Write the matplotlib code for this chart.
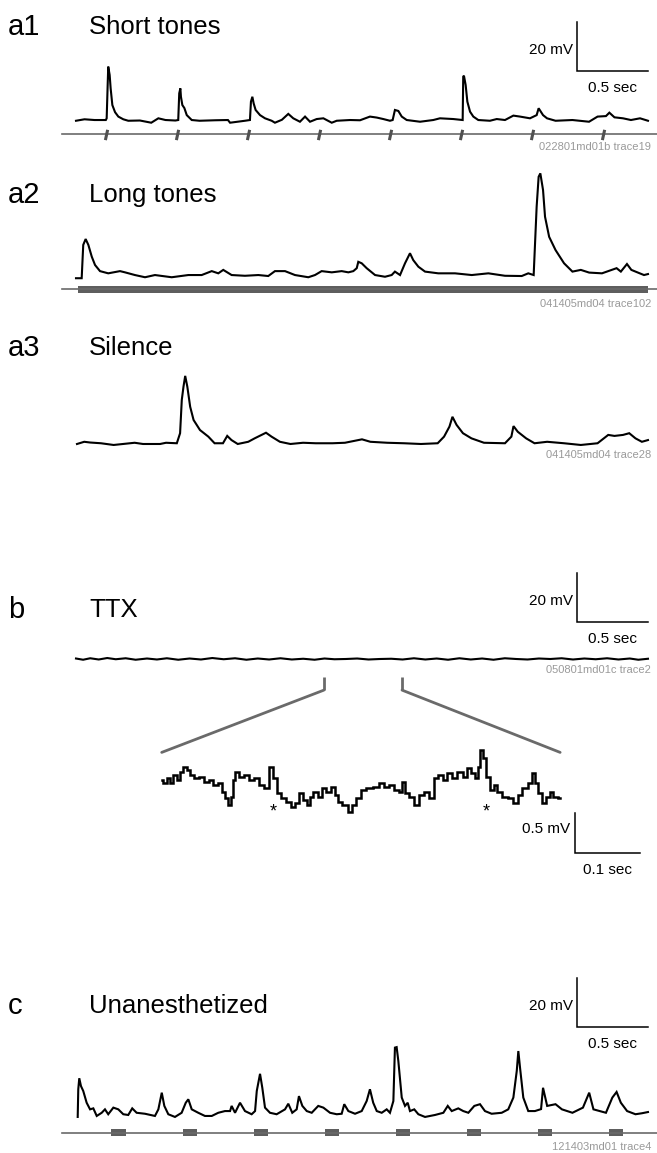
import matplotlib
matplotlib.use("Agg")
import matplotlib.pyplot as plt
from matplotlib.patches import Rectangle, ConnectionPatch

plt.rcParams['font.family'] = ['Liberation Sans', 'DejaVu Sans']

# ---- data: (time s, mV above baseline) ----
a1_trace = [(0.00, 0.1), (0.06, 0.7), (0.13, 0.4), (0.21, 0.4), (0.216, 1.1), (0.223, 14.7), (0.227, 22.2),
            (0.237, 18.8), (0.244, 13.3), (0.256, 6.5), (0.275, 3.6), (0.298, 1.8), (0.333, 0.7), (0.368, 0.1),
            (0.45, 0.2), (0.53, -0.7), (0.58, 1.1), (0.63, 0.4), (0.70, 0.2), (0.72, 0.4), (0.727, 11.3),
            (0.735, 13.3), (0.739, 9.9), (0.749, 6.5), (0.763, 5.3), (0.78, 2.4), (0.815, 0.4), (0.87, 0.1),
            (0.98, 0.3), (1.07, 0.4), (1.085, -0.7), (1.19, 0.1), (1.225, 0.4), (1.232, 7.9), (1.242, 9.9),
            (1.251, 7.2), (1.265, 4.5), (1.296, 2.4), (1.331, 1.1), (1.378, 0.1), (1.401, -0.7), (1.45, 0.5),
            (1.495, 2.9), (1.53, 1.1), (1.577, -0.3), (1.613, 1.8), (1.648, -0.3), (1.695, 0.8), (1.742, 1.1),
            (1.801, -0.7), (1.836, 0.1), (1.93, 0.4), (2.0, 0.3), (2.07, 1.8), (2.118, 1.4), (2.164, 0.8),
            (2.211, 0.1), (2.23, 0.4), (2.246, 4.5), (2.27, 4.1), (2.294, 1.8), (2.329, 0.4), (2.423, -0.3),
            (2.516, 0.4), (2.563, 1.1), (2.657, 0.8), (2.723, 0.4), (2.727, 18.1), (2.732, 18.5), (2.744, 14.7),
            (2.756, 7.9), (2.775, 3.8), (2.798, 1.8), (2.833, 0.4), (2.915, 0.1), (2.963, 0.8), (3.021, 0.4),
            (3.08, 2.2), (3.127, 1.8), (3.197, 1.1), (3.244, 2.4), (3.258, 5.2), (3.289, 2.4), (3.317, 1.1),
            (3.377, 0.1), (3.496, 0.4), (3.613, -0.3), (3.673, 1.8), (3.732, 2.0), (3.756, 3.4), (3.792, 1.5),
            (3.852, 1.1), (3.908, 0.4), (3.972, 1.1), (4.028, 0.1)]

a2_trace = [(0.0, -0.5), (0.04, -0.5), (0.051, 13.1), (0.068, 15.5), (0.087, 13.1), (0.111, 8.3), (0.134, 4.9),
            (0.169, 2.4), (0.227, 1.5), (0.31, 2.4), (0.345, 1.9), (0.415, 0.8), (0.486, -0.1), (0.556, 0.8),
            (0.674, -0.1), (0.791, 0.8), (0.885, 0.8), (0.956, 2.4), (1.002, 1.5), (1.037, 2.9), (1.096, 0.8),
            (1.19, 0.5), (1.284, 0.8), (1.354, 0.4), (1.401, 2.4), (1.472, 2.4), (1.542, 0.8), (1.636, -0.1),
            (1.683, 0.8), (1.73, 2.4), (1.801, 1.9), (1.871, 2.4), (1.918, 1.9), (1.953, 2.4), (1.977, 3.6),
            (1.988, 6.2), (2.012, 5.6), (2.047, 3.6), (2.106, 0.8), (2.176, 0.1), (2.223, 0.8), (2.246, 2.2),
            (2.282, 0.8), (2.317, 5.6), (2.352, 9.7), (2.375, 6.9), (2.411, 4.2), (2.458, 2.2), (2.551, 1.5),
            (2.669, 1.5), (2.787, 0.8), (2.904, 1.5), (3.021, 0.5), (3.139, 0.4), (3.185, 1.5), (3.223, 0.8),
            (3.244, 28.7), (3.258, 40.9), (3.27, 42.3), (3.289, 35.5), (3.303, 24.6), (3.332, 16.4), (3.377, 11.0),
            (3.437, 5.6), (3.496, 2.2), (3.555, 2.9), (3.614, 1.8), (3.704, 1.5), (3.807, 3.6), (3.837, 2.2),
            (3.88, 5.3), (3.911, 2.9), (3.97, 1.5), (4.0, 0.8), (4.028, 1.2)]

a3_trace = [(0.007, -0.2), (0.058, 0.7), (0.10, 0.4), (0.176, 0.1), (0.265, -0.6), (0.413, 0.3), (0.472, -0.2),
            (0.592, -0.2), (0.634, 0.3), (0.71, 0.1), (0.733, 4.2), (0.745, 17.8), (0.757, 23.2), (0.769, 27.6),
            (0.784, 23.2), (0.804, 15.0), (0.828, 9.6), (0.873, 5.5), (0.932, 2.8), (0.976, 0.1), (1.035, 0.1),
            (1.065, 3.1), (1.095, 1.4), (1.139, -0.2), (1.213, 0.7), (1.258, 2.1), (1.338, 4.4), (1.377, 2.8),
            (1.436, 0.7), (1.51, -0.2), (1.599, 0.3), (1.688, 0.1), (1.806, 0.1), (1.894, 0.3), (2.014, 1.7),
            (2.073, 0.7), (2.192, 0.3), (2.31, 0.1), (2.429, -0.2), (2.547, 0.1), (2.592, 2.8), (2.63, 6.9),
            (2.651, 10.9), (2.68, 7.6), (2.725, 4.2), (2.785, 2.1), (2.873, 0.3), (3.021, 0.1), (3.066, 2.8),
            (3.081, 7.1), (3.111, 4.8), (3.17, 2.1), (3.229, 0.1), (3.318, 0.7), (3.437, 0.1), (3.555, -0.6),
            (3.673, 0.1), (3.748, 3.5), (3.792, 3.1), (3.852, 3.5), (3.896, 4.2), (3.94, 2.1), (3.985, 0.7),
            (4.028, 1.4)]

b_trace = [(0.0, 0.2), (0.05, -0.3), (0.1, 0.3), (0.16, -0.2), (0.22, 0.4), (0.28, -0.1), (0.35, 0.3),
           (0.42, -0.3), (0.5, 0.2), (0.57, -0.2), (0.64, 0.3), (0.72, -0.3), (0.8, 0.2), (0.88, -0.2),
           (0.96, 0.4), (1.04, -0.1), (1.12, 0.3), (1.2, -0.3), (1.28, 0.2), (1.36, -0.2), (1.44, 0.3),
           (1.52, -0.2), (1.6, 0.1), (1.68, -0.3), (1.75, 0.2), (1.82, -0.1), (1.9, 0.0), (1.98, 0.2),
           (2.06, -0.2), (2.14, 0.0), (2.22, 0.1), (2.3, -0.2), (2.38, 0.3), (2.46, -0.2), (2.54, 0.2),
           (2.62, -0.3), (2.7, 0.3), (2.78, -0.2), (2.86, 0.2), (2.94, -0.3), (3.02, 0.3), (3.1, 0.0),
           (3.18, -0.2), (3.26, 0.2), (3.34, 0.0), (3.42, 0.3), (3.5, -0.2), (3.58, 0.2), (3.66, -0.1),
           (3.74, 0.3), (3.82, -0.2), (3.9, 0.2), (3.96, -0.3), (4.028, 0.1)]

# expanded TTX segment (s from segment start, mV)
b_zoom_trace = [(0.0, 0.125), (0.005, 0.084), (0.010, 0.146), (0.015, 0.084), (0.020, 0.19), (0.026, 0.125),
                (0.031, 0.23), (0.036, 0.29), (0.041, 0.25), (0.046, 0.19), (0.054, 0.146), (0.062, 0.166),
                (0.069, 0.104), (0.077, 0.125), (0.082, 0.063), (0.090, 0.084), (0.095, -0.021), (0.100, -0.104),
                (0.104, -0.19), (0.108, -0.084), (0.112, 0.125), (0.115, 0.23), (0.123, 0.166), (0.131, 0.19),
                (0.138, 0.125), (0.146, 0.146), (0.154, 0.063), (0.162, 0.021), (0.168, 0.29), (0.174, 0.146),
                (0.180, -0.041), (0.187, -0.104), (0.195, -0.146), (0.202, -0.21), (0.208, -0.166), (0.215, -0.041),
                (0.220, -0.125), (0.226, -0.19), (0.231, -0.084), (0.236, -0.021), (0.244, -0.084), (0.249, 0.021),
                (0.256, -0.021), (0.264, 0.041), (0.269, -0.063), (0.274, -0.146), (0.282, -0.19), (0.290, -0.27),
                (0.295, -0.19), (0.302, -0.104), (0.310, 0.0), (0.320, 0.021), (0.331, 0.041), (0.338, 0.084),
                (0.346, 0.041), (0.354, 0.063), (0.362, 0.0), (0.367, -0.021), (0.372, 0.104), (0.377, -0.041),
                (0.385, -0.084), (0.392, -0.19), (0.400, -0.063), (0.408, -0.021), (0.415, -0.104), (0.423, 0.146),
                (0.428, 0.19), (0.436, 0.125), (0.441, 0.21), (0.451, 0.146), (0.459, 0.23), (0.467, 0.166),
                (0.472, 0.27), (0.479, 0.21), (0.485, 0.146), (0.487, 0.29), (0.492, 0.5), (0.497, 0.4),
                (0.502, 0.166), (0.508, 0.0), (0.513, 0.063), (0.520, -0.021), (0.528, -0.084), (0.536, -0.104),
                (0.544, -0.166), (0.551, -0.063), (0.559, 0.021), (0.567, 0.084), (0.571, 0.21), (0.577, 0.084),
                (0.582, -0.041), (0.587, -0.166), (0.595, -0.084), (0.600, -0.021), (0.605, -0.084), (0.613, -0.104)]
b_zoom_window = (1.746, 2.296)
b_asterisks = [0.171, 0.50]

c_trace = [(0.012, -1.2), (0.016, 10.1), (0.023, 14.6), (0.035, 11.4), (0.051, 9.4), (0.075, 4.6), (0.099, 1.9),
           (0.122, 2.3), (0.146, -0.8), (0.181, 0.5), (0.204, 1.9), (0.227, -0.1), (0.263, 2.6), (0.298, 1.9),
           (0.333, -0.1), (0.368, -0.4), (0.396, 2.3), (0.427, 0.5), (0.486, 0.1), (0.556, -0.8), (0.58, 1.9),
           (0.604, 8.7), (0.622, 3.3), (0.65, -0.1), (0.697, -1.2), (0.744, 0.5), (0.773, 4.6), (0.791, 6.0),
           (0.815, 1.9), (0.861, 0.5), (0.908, -0.8), (0.956, -0.8), (1.002, 0.5), (1.049, 1.2), (1.085, 1.2),
           (1.096, 3.3), (1.12, 0.5), (1.155, 4.6), (1.19, 1.2), (1.237, -0.1), (1.261, 1.2), (1.273, 9.4),
           (1.296, 16.4), (1.312, 10.7), (1.331, 2.6), (1.366, 0.5), (1.413, -0.1), (1.472, 1.9), (1.495, 4.2),
           (1.523, 0.5), (1.554, 1.9), (1.57, 7.3), (1.594, 3.3), (1.625, 1.2), (1.66, 0.5), (1.706, 3.3),
           (1.742, 2.6), (1.789, 0.5), (1.836, -0.1), (1.871, 0.1), (1.889, 4.0), (1.918, 1.2), (1.965, 0.1),
           (2.012, 1.2), (2.047, 5.3), (2.07, 10.1), (2.093, 4.6), (2.118, 1.2), (2.153, 0.5), (2.188, 1.9),
           (2.211, 0.5), (2.235, 5.3), (2.246, 27.1), (2.258, 27.3), (2.27, 21.6), (2.294, 6.7), (2.317, 3.3),
           (2.336, 4.6), (2.352, 1.2), (2.382, 1.9), (2.411, -0.1), (2.458, -1.2), (2.528, -0.4), (2.587, 0.5),
           (2.618, 3.3), (2.646, 1.2), (2.692, 2.3), (2.727, 1.2), (2.763, 0.5), (2.805, 3.3), (2.845, 4.0),
           (2.88, 1.2), (2.927, 0.1), (2.998, 0.5), (3.044, 1.9), (3.08, 6.7), (3.104, 17.6), (3.115, 25.7),
           (3.127, 18.9), (3.15, 6.7), (3.185, 1.2), (3.232, 1.2), (3.275, 2.0), (3.289, 10.7), (3.318, 3.3),
           (3.377, 4.0), (3.422, 1.9), (3.496, 0.5), (3.57, 2.6), (3.614, 8.7), (3.644, 1.9), (3.732, 0.5),
           (3.777, 6.7), (3.807, 9.0), (3.837, 4.6), (3.881, 1.2), (3.94, -0.1), (3.985, 0.3), (4.028, 0.8)]

short_tone_onsets = [0.215, 0.715, 1.215, 1.715, 2.215, 2.715, 3.215, 3.715]
long_tone = (0.016, 4.03)
c_tone_onsets = [0.25, 0.75, 1.25, 1.75, 2.25, 2.75, 3.25, 3.75]
c_tone_dur = 0.1

titles = [("a1", "Short tones"), ("a2", "Long tones"), ("a3", "Silence"), ("b", "TTX"), ("c", "Unanesthetized")]
trace_ids = ["022801md01b trace19", "041405md04 trace102", "041405md04 trace28",
             "050801md01c trace2", "121403md01 trace4"]

# ---- layout (pixels) ----
W, H = 657, 1153
fig = plt.figure(figsize=(W / 100, H / 100), dpi=100)

def make_axes(box, x0, y0, sx, sy):
    left, top, right, bottom = box
    ax = fig.add_axes([left / W, 1 - bottom / H, (right - left) / W, (bottom - top) / H])
    ax.set_xlim((left - x0) / sx, (right - x0) / sx)
    ax.set_ylim((y0 - bottom) / sy, (y0 - top) / sy)
    ax.axis('off')
    return ax

def ftext(x, y, s, **kw):
    fig.text(x / W, 1 - y / H, s, **kw)

SX, SY = 142, 2.45
ax_a1 = make_axes((0, 0, W, 160), 76, 121, SX, SY)
ax_a2 = make_axes((0, 160, W, 310), 76, 277, SX, SY)
ax_a3 = make_axes((0, 310, W, 470), 76, 443.5, SX, SY)
ax_b = make_axes((0, 560, W, 700), 76, 659, SX, SY)
ax_bz = make_axes((140, 740, W, 890), 161.7, 790, 650, 80)
ax_c = make_axes((0, 940, W, H), 76, 1114, SX, SY)

def draw_trace(ax, pts, lw=1.5, **kw):
    t = [p[0] for p in pts]
    v = [p[1] for p in pts]
    ax.plot(t, v, color='black', lw=lw, solid_joinstyle='miter', **kw)

draw_trace(ax_a1, a1_trace)
draw_trace(ax_a2, a2_trace)
draw_trace(ax_a3, a3_trace)
draw_trace(ax_b, b_trace)
draw_trace(ax_bz, b_zoom_trace, lw=1.8, drawstyle='steps-mid')
draw_trace(ax_c, c_trace)

gray = '#6a6a6a'
# stimulus markers
ax_a1.plot([-0.1, 4.1], [-5.5, -5.5], color=gray, lw=1.2)
for t in short_tone_onsets:
    ax_a1.plot([t - 0.008, t + 0.008], [-7.8, -3.6], color='#505050', lw=2.2, solid_capstyle='butt')
ax_a2.plot([-0.1, 4.1], [-5.1, -5.1], color=gray, lw=1.2)
ax_a2.add_patch(Rectangle((long_tone[0], -6.6), long_tone[1] - long_tone[0], 3.0, color='#5e5e5e', lw=0))
ax_c.plot([-0.1, 4.1], [-7.6, -7.6], color=gray, lw=1.2)
for t in c_tone_onsets:
    ax_c.add_patch(Rectangle((t, -9.1), c_tone_dur, 3.0, color='#5e5e5e', lw=0))

# scale bars (20 mV / 0.5 s)
def scale_bar(ax, t0, v0):
    ax.plot([t0, t0, t0 + 0.5], [v0 + 20, v0, v0], color='black', lw=1.1, solid_joinstyle='miter')
    ax.text(t0 - 0.03, v0 + 8.5, "20 mV", ha='right', va='center', fontsize=11)
    ax.text(t0 + 0.25, v0 - 6.8, "0.5 sec", ha='center', va='center', fontsize=11)

scale_bar(ax_a1, 3.528, 20.4)
scale_bar(ax_b, 3.528, 15.1)
scale_bar(ax_c, 3.528, 35.5)

# inset scale bar (0.5 mV / 0.1 s)
ax_bz.plot([0.636, 0.636, 0.736], [-0.29, -0.79, -0.79], color='black', lw=1.1, solid_joinstyle='miter')
ax_bz.text(0.628, -0.49, "0.5 mV", ha='right', va='center', fontsize=11)
ax_bz.text(0.686, -1.0, "0.1 sec", ha='center', va='center', fontsize=11)
for t in b_asterisks:
    ax_bz.text(t, -0.27, "*", ha='center', va='center', fontsize=13)

# expansion lines from TTX trace to inset
for tb, tz in zip(b_zoom_window, (0.0, 0.613)):
    ax_b.plot([tb, tb], [-7.2, -12.7], color=gray, lw=2.0, solid_capstyle='butt')
    con = ConnectionPatch(xyA=(tb, -12.7), coordsA=ax_b.transData,
                          xyB=(tz, 0.47), coordsB=ax_bz.transData,
                          color=gray, lw=2.0)
    fig.add_artist(con)

# titles and labels
title_y = [27, 195, 348, 610, 1006]
for (lab, name), y in zip(titles, title_y):
    ftext(8, y, lab, fontsize=21, ha='left', va='center')
    ftext(89, y, name, fontsize=18.5, ha='left', va='center')

id_y = [147, 304, 455, 670, 1146.5]
for s, y in zip(trace_ids, id_y):
    ftext(651, y, s, fontsize=8, color='#9a9a9a', ha='right', va='center')

fig.savefig("out.png", dpi=100)
